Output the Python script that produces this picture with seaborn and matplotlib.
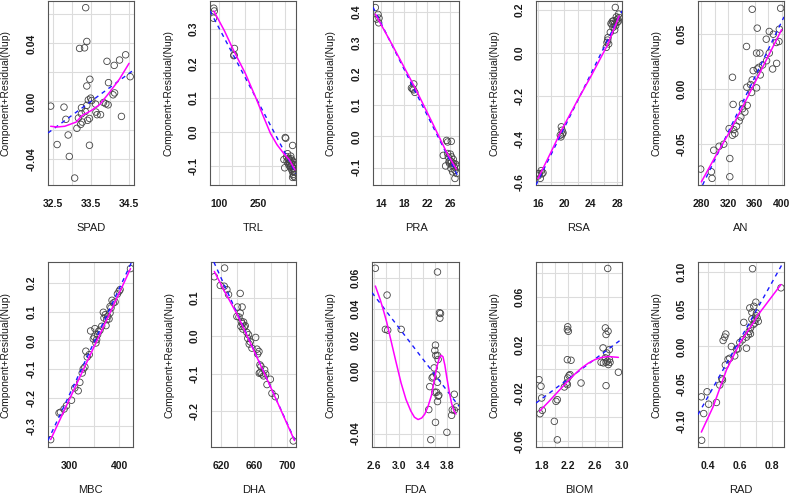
import numpy as np
import pandas as pd
import matplotlib
matplotlib.use("Agg")
import matplotlib.pyplot as plt
import seaborn as sns

sns.set_style("white")
plt.rcParams['font.family'] = ['Liberation Sans', 'DejaVu Sans']

ylabel_text = "Component+Residual(Nup)"

# ---------------- data ----------------
spad_x = [33.36,33.39,33.20,33.33,34.41,34.25,33.92,34.11,33.47,33.96,33.39,34.53,34.12,34.08,32.44,32.79,33.49,33.43,33.52,33.25,33.39,33.83,33.89,33.95,33.62,33.63,33.66,33.75,33.35,33.46,33.17,33.25,33.27,33.23,32.84,33.13,34.30,32.90,32.61,33.46,32.93,33.07,33.41]
spad_y = [0.0647,0.0414,0.0366,0.0370,0.0322,0.0286,0.0277,0.0249,0.0153,0.0130,0.0107,0.0171,0.0059,0.0046,-0.0032,-0.0039,0.0023,0.0011,0.0007,-0.0043,-0.0027,-0.0007,-0.0016,-0.0023,-0.0018,-0.0073,-0.0091,-0.0091,-0.0069,-0.0117,-0.0114,-0.0085,-0.0142,-0.0158,-0.0123,-0.0185,-0.0103,-0.0231,-0.0297,-0.0302,-0.0379,-0.0528,-0.0130]
spad_sx = [32.44,32.61,32.81,33.11,33.27,33.51,33.73,33.99,34.25,34.50]
spad_sy = [-0.0171,-0.0176,-0.0171,-0.0142,-0.0096,-0.0062,-0.0021,0.0064,0.0155,0.0263]
spad_lx = [32.37,34.63]
spad_ly = [-0.0217,0.0219]

trl_x = [80,82,79,158.4,157,156,351,353,379,346,349,356,360,364,369,375,379,382,384,379,382,388,379,363,371,375,384,366,358,372,385,377,387,368,362,380,386,374,383]
trl_y = [0.36,0.352,0.331,0.243,0.224,0.222,-0.016,-0.018,-0.039,-0.080,-0.104,-0.072,-0.063,-0.077,-0.082,-0.092,-0.084,-0.097,-0.106,-0.116,-0.123,-0.132,-0.132,-0.092,-0.101,-0.109,-0.113,-0.098,-0.085,-0.07,-0.088,-0.1,-0.117,-0.09,-0.079,-0.105,-0.095,-0.078,-0.128]
trl_sx = [80,120,156,200,242,270,295,320,345,366,388]
trl_sy = [0.352,0.295,0.236,0.170,0.095,0.042,-0.004,-0.037,-0.062,-0.080,-0.110]
trl_lx = [65.7,391.9]
trl_ly = [0.352,-0.121]

pra_x = [12.95,13.42,13.18,13.59,13.53,19.67,19.26,19.61,19.85,19.44,25.40,25.58,26.22,24.82,25.23,25.70,25.99,26.28,26.57,26.40,26.75,26.16,26.46,26.86,27.16,26.86,25.93,25.58,26.63,26.98,27.27,26.05,26.28,25.81]
pra_y = [0.413,0.391,0.376,0.379,0.364,0.168,0.155,0.149,0.141,0.152,-0.013,-0.018,-0.016,-0.061,-0.095,-0.066,-0.077,-0.082,-0.074,-0.093,-0.098,-0.103,-0.114,-0.109,-0.119,-0.135,-0.087,-0.055,-0.087,-0.089,-0.096,-0.057,-0.066,-0.082]
pra_sx = [12.95,16,19.85,23,25.5,27.1]
pra_sy = [0.392,0.29,0.157,0.04,-0.055,-0.105]
pra_lx = [12.54,27.57]
pra_ly = [0.414,-0.135]

rsa_x = [16.2,16.5,16.76,16.0,16.35,16.6,16.1,19.54,19.64,19.38,19.79,19.48,19.69,26.56,26.46,26.71,26.35,26.61,26.96,27.21,27.46,27.72,27.87,28.07,28.22,27.36,27.56,27.97,27.77,28.27,27.06,27.62,28.17,27.87,27.26]
rsa_y = [-0.561,-0.548,-0.558,-0.573,-0.584,-0.563,-0.563,-0.344,-0.36,-0.383,-0.372,-0.391,-0.378,0.06,0.049,0.042,0.026,0.072,0.096,0.134,0.15,0.212,0.168,0.158,0.181,0.119,0.134,0.142,0.127,0.165,0.137,0.107,0.147,0.153,0.147]
rsa_sx = [16.0,18,19.6,22,24,26.5,28.3]
rsa_sy = [-0.585,-0.46,-0.358,-0.22,-0.11,0.035,0.172]
rsa_lx = [15.7,28.73]
rsa_ly = [-0.615,0.196]

an_x = [356,398.5,363.5,381.5,387.5,396.5,347.5,362.5,367.5,377,392,396,381.5,377.5,392.5,386.5,363.5,366,357.5,371.5,368,326.5,356,353.5,362.5,355,348,327.5,341.5,348.5,341.5,345,339,336.5,332.5,321.5,328.5,326.5,330,306.5,313.5,298.5,322.5,279,295,296,322.5]
an_y = [0.0724,0.0733,0.0553,0.0523,0.0498,0.0544,0.0387,0.0327,0.0327,0.0453,0.0423,0.0432,0.0327,0.0258,0.0234,0.0183,0.0183,0.0198,0.0168,0.0219,0.0129,0.0108,0.0084,0.0042,0.0012,-0.003,0.0018,-0.0138,-0.0132,-0.0147,-0.0177,-0.0207,-0.0252,-0.0288,-0.0336,-0.0357,-0.0366,-0.0417,-0.0402,-0.0517,-0.0498,-0.0553,-0.0628,-0.0724,-0.0748,-0.0808,-0.0793]
an_sx = [280,300,320,340,360,380,400]
an_sy = [-0.084,-0.062,-0.041,-0.018,0.006,0.030,0.054]
an_lx = [283.5,403.5]
an_ly = [-0.0847,0.0655]

mbc_x = [263.3,280,282.7,290,294.7,304.7,311.3,318,321.3,326,328,331.3,333.3,336,340,342.7,348,351.3,350,353.3,354.7,356.7,358.7,361.3,364.7,368,369.3,372,373.3,374.7,376.7,379.3,381.3,383.3,385.3,381.3,388,391.3,396,401.3,399.3,422]
mbc_y = [-0.3465,-0.2535,-0.251,-0.2395,-0.228,-0.209,-0.166,-0.176,-0.1465,-0.114,-0.1,-0.093,-0.038,-0.058,-0.05,0.0326,0.0047,0.0407,0.0116,-0.0093,0.0023,0.0198,0.0314,0.0349,0.0488,0.0977,0.0779,0.0895,0.0512,0.0721,0.0837,0.0744,0.0953,0.1128,0.1395,0.1174,0.1302,0.1337,0.1616,0.1767,0.1709,0.25]
mbc_sx = [263.3,300,350,400,422]
mbc_sy = [-0.346,-0.208,-0.021,0.166,0.25]
mbc_lx = [258,426]
mbc_ly = [-0.349,0.279]

dha_x = [612,624.4,619.2,624,627.2,629.2,643.3,640,645.6,639.3,641.8,643.3,644.6,645.8,644.2,647.4,648.2,646.6,649.4,651.4,653.4,652.5,655.4,654.2,662,657.5,663.6,664.4,666,667.2,668.4,666.4,669.6,667.6,671.6,672.9,674.1,675.7,679.8,681.7,685.8,707.5]
dha_y = [0.156,0.179,0.133,0.131,0.122,0.109,0.112,0.076,0.076,0.051,0.0496,0.06,0.038,0.032,0.0248,0.0363,0.023,0.0177,0.0265,0.0088,0.0027,-0.007,-0.016,-0.022,-0.0044,-0.0327,-0.0354,-0.048,-0.0416,-0.077,-0.081,-0.099,-0.101,-0.097,-0.106,-0.09,-0.101,-0.129,-0.115,-0.152,-0.161,-0.278]
dha_sx = [612,625,640,660,680,709]
dha_sy = [0.17,0.115,0.055,-0.04,-0.135,-0.277]
dha_lx = [611,710.8]
dha_ly = [0.197,-0.283]

fda_x = [2.617,3.639,2.81,2.782,2.821,3.042,3.672,3.689,3.678,3.606,3.595,3.612,3.639,3.65,3.584,3.551,3.512,3.567,3.628,3.639,3.595,3.623,3.65,3.639,3.661,3.916,3.882,3.916,3.871,3.954,3.496,3.606,3.794,3.529]
fda_y = [0.066,0.0636,0.0488,0.0268,0.0263,0.0268,0.0375,0.037,0.034,0.0167,0.0133,0.0101,0.0101,0.0075,0.0021,-0.0043,-0.0099,-0.0036,-0.0024,-0.0071,-0.0135,-0.0135,-0.016,-0.0195,-0.0154,-0.0148,-0.0248,-0.025,-0.0283,-0.0229,-0.0246,-0.0328,-0.0392,-0.0439]
fda_sx = [2.617,2.65,2.70,2.75,2.80,2.875,2.95,3.04,3.12,3.20,3.26,3.32,3.38,3.43,3.48,3.54,3.59,3.63,3.67,3.70,3.73,3.76,3.79,3.83,3.87,3.91,3.943]
fda_sy = [0.0546,0.051,0.0455,0.039,0.032,0.0195,0.007,-0.0075,-0.018,-0.0255,-0.0295,-0.031,-0.030,-0.0275,-0.023,-0.0155,-0.005,0.003,0.0085,0.0102,0.0092,0.004,-0.0035,-0.0125,-0.0205,-0.0255,-0.0275]
fda_lx = [2.556,3.993]
fda_ly = [0.0507,-0.0225]

biom_x = [2.79,2.19,2.185,2.2,2.755,2.795,2.765,2.72,2.815,2.775,2.69,2.725,2.785,2.755,2.815,2.8,2.765,2.825,2.95,2.185,2.24,2.225,2.21,2.19,2.175,2.14,2.185,2.39,1.76,1.79,1.8,1.81,1.775,2.035,2.015,1.99,2.035,2.765]
biom_y = [0.084,0.0353,0.033,0.0316,0.0344,0.0316,0.0289,0.0177,0.0163,0.0135,0.0057,0.0052,0.0066,0.0094,0.008,0.0038,0.0057,0.0057,-0.0026,0.0079,0.0074,-0.0046,-0.0054,-0.0074,-0.0116,-0.0149,-0.013,-0.0116,-0.0088,-0.0143,-0.0241,-0.0344,-0.0372,-0.0255,-0.0269,-0.0436,-0.059,-0.0138]
biom_sx = [1.77,1.9,2.0,2.1,2.2,2.3,2.4,2.5,2.6,2.7,2.8,2.95]
biom_sy = [-0.035,-0.0275,-0.0215,-0.0155,-0.0095,-0.004,0.001,0.005,0.008,0.0098,0.0105,0.0098]
biom_lx = [1.715,3.004]
biom_ly = [-0.0283,0.0252]

rad_x = [0.36,0.68,0.859,0.358,0.373,0.394,0.404,0.453,0.474,0.491,0.487,0.495,0.512,0.505,0.509,0.526,0.537,0.547,0.568,0.579,0.589,0.6,0.617,0.625,0.642,0.653,0.642,0.659,0.667,0.663,0.676,0.676,0.684,0.695,0.701,0.701,0.695,0.709,0.705,0.716,0.667,0.688]
rad_y = [-0.126,0.1045,0.0788,-0.0676,-0.0901,-0.0608,-0.0775,-0.0752,-0.0518,-0.045,-0.0432,0.0081,0.0167,0.0126,-0.0248,-0.0171,-0.0158,0.0,-0.0126,-0.0036,-0.0032,0.0054,0.009,0.0324,-0.0023,0.0158,0.0126,0.0203,0.0248,0.0518,0.0459,0.0369,0.0293,0.0315,0.0595,0.0414,0.0351,0.0383,0.045,0.0338,0.0171,0.054]
rad_sx = [0.358,0.432,0.516,0.6,0.684,0.716,0.859]
rad_sy = [-0.115,-0.081,-0.0315,0.0045,0.0315,0.0428,0.0833]
rad_lx = [0.337,0.878]
rad_ly = [-0.0914,0.1149]

# ---------------- layout ----------------
W, H = 791, 495
fig = plt.figure(figsize=(W / 100, H / 100), dpi=100)

panels = [
    ("SPAD", spad_x, spad_y, spad_sx, spad_sy, spad_lx, spad_ly, (48, 134, 1, 185),
     (32.37, 34.63), (-0.0576, 0.0693),
     [32.5, 33.0, 33.5, 34.0, 34.5], ["32.5", "", "33.5", "", "34.5"],
     [-0.04, -0.02, 0.0, 0.02, 0.04, 0.06], ["-0.04", "", "0.00", "", "0.04", ""]),
    ("TRL", trl_x, trl_y, trl_sx, trl_sy, trl_lx, trl_ly, (210, 296, 1, 185),
     (65.7, 391.9), (-0.154, 0.381),
     [100, 150, 200, 250, 300, 350], ["100", "", "", "250", "", ""],
     [-0.1, 0.0, 0.1, 0.2, 0.3], ["-0.1", "0.0", "0.1", "0.2", "0.3"]),
    ("PRA", pra_x, pra_y, pra_sx, pra_sy, pra_lx, pra_ly, (373, 459, 1, 185),
     (12.54, 27.57), (-0.156, 0.434),
     [14, 16, 18, 20, 22, 24, 26], ["14", "", "18", "", "22", "", "26"],
     [-0.1, 0.0, 0.1, 0.2, 0.3, 0.4], ["-0.1", "0.0", "0.1", "0.2", "0.3", "0.4"]),
    ("RSA", rsa_x, rsa_y, rsa_sx, rsa_sy, rsa_lx, rsa_ly, (536, 622, 1, 185),
     (15.7, 28.73), (-0.615, 0.242),
     [16, 18, 20, 22, 24, 26, 28], ["16", "", "20", "", "24", "", "28"],
     [-0.6, -0.4, -0.2, 0.0, 0.2], ["-0.6", "-0.4", "-0.2", "0.0", "0.2"]),
    ("AN", an_x, an_y, an_sx, an_sy, an_lx, an_ly, (698, 784, 1, 185),
     (275, 403.5), (-0.0868, 0.0799),
     [280, 300, 320, 340, 360, 380, 400], ["280", "", "320", "", "360", "", "400"],
     [-0.05, 0.0, 0.05], ["-0.05", "0.00", "0.05"]),
    ("MBC", mbc_x, mbc_y, mbc_sx, mbc_sy, mbc_lx, mbc_ly, (48, 132.5, 262, 447),
     (258, 426), (-0.372, 0.273),
     [300, 350, 400], ["300", "", "400"],
     [-0.3, -0.2, -0.1, 0.0, 0.1, 0.2], ["-0.3", "-0.2", "-0.1", "0.0", "0.1", "0.2"]),
    ("DHA", dha_x, dha_y, dha_sx, dha_sy, dha_lx, dha_ly, (211, 296, 262, 447),
     (608, 710.8), (-0.294, 0.195),
     [620, 640, 660, 680, 700], ["620", "", "660", "", "700"],
     [-0.2, -0.1, 0.0, 0.1], ["-0.2", "-0.1", "0.0", "0.1"]),
    ("FDA", fda_x, fda_y, fda_sx, fda_sy, fda_lx, fda_ly, (372, 459, 262, 447),
     (2.562, 3.993), (-0.0486, 0.070),
     [2.6, 2.8, 3.0, 3.2, 3.4, 3.6, 3.8], ["2.6", "", "3.0", "", "3.4", "", "3.8"],
     [-0.04, -0.02, 0.0, 0.02, 0.04, 0.06], ["-0.04", "", "0.00", "0.02", "0.04", "0.06"]),
    ("BIOM", biom_x, biom_y, biom_sx, biom_sy, biom_lx, biom_ly, (536, 622, 262, 447),
     (1.715, 3.004), (-0.065, 0.0894),
     [1.8, 2.0, 2.2, 2.4, 2.6, 2.8, 3.0], ["1.8", "", "2.2", "", "2.6", "", "3.0"],
     [-0.06, -0.04, -0.02, 0.0, 0.02, 0.04, 0.06, 0.08], ["-0.06", "", "-0.02", "", "0.02", "", "0.06", ""]),
    ("RAD", rad_x, rad_y, rad_sx, rad_sy, rad_lx, rad_ly, (698, 784, 262, 447),
     (0.337, 0.878), (-0.135, 0.1135),
     [0.4, 0.5, 0.6, 0.7, 0.8], ["0.4", "", "0.6", "", "0.8"],
     [-0.10, -0.05, 0.0, 0.05, 0.10], ["-0.10", "-0.05", "0.00", "0.05", "0.10"]),
]

frame_col = "#555555"
for (name, x, y, sx, sy, lx, ly, box, xlim, ylim, xt, xtl, yt, ytl) in panels:
    l, r, t, b = box
    ax = fig.add_axes([l / W, 1 - b / H, (r - l) / W, (b - t) / H])
    ax.set_xlim(*xlim)
    ax.set_ylim(*ylim)
    ax.set_xticks(xt)
    ax.set_xticklabels(xtl)
    ax.set_yticks(yt)
    ax.set_yticklabels(ytl, rotation=90, va="center")
    ax.grid(True, color="#dcdcdc", lw=0.8)
    ax.set_axisbelow(True)
    for s in ax.spines.values():
        s.set_color(frame_col)
        s.set_linewidth(0.8)
    ax.tick_params(axis="both", direction="out", length=4, width=0.7, color=frame_col,
                   labelsize=7.5, labelcolor="#1a1a1a")
    ax.tick_params(axis="x", pad=6)
    ax.tick_params(axis="y", pad=4)
    for lab in ax.get_xticklabels() + ax.get_yticklabels():
        lab.set_fontweight("bold")

    df = pd.DataFrame({"x": x, "y": y})
    sns.scatterplot(data=df, x="x", y="y", ax=ax, marker="o", s=22,
                    facecolors="none", edgecolor="#444444", linewidth=0.6, zorder=3)
    ax.axline((lx[0], ly[0]), (lx[1], ly[1]), color="#1a1aff", lw=1.0,
              dashes=(3, 3), zorder=4)
    sdf = pd.DataFrame({"x": sx, "y": sy})
    sns.lineplot(data=sdf, x="x", y="y", ax=ax, sort=False, estimator=None,
                 color="#ff00ff", lw=1.1, zorder=5)

    ax.set_xlabel(name, fontsize=8, color="#1a1a1a")
    ax.set_ylabel(ylabel_text, fontsize=7.5, color="#1a1a1a")
    ax.xaxis.set_label_coords(0.5, -0.235)
    ax.xaxis.label.set_va("center")
    ax.yaxis.set_label_coords(-42 / (r - l), 0.5)
    ax.yaxis.label.set_va("center")

fig.savefig("out.png", dpi=100)
